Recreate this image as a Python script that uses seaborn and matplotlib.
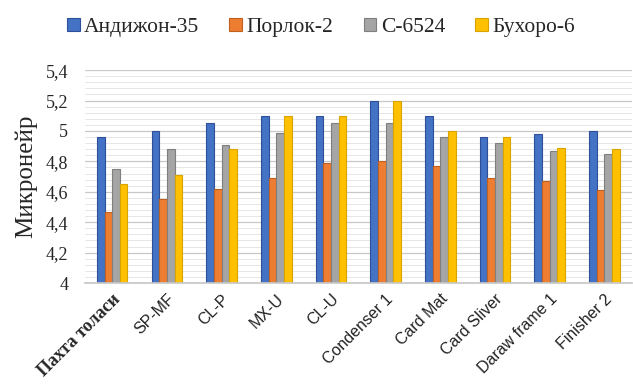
import matplotlib
matplotlib.use("Agg")
import matplotlib.pyplot as plt
import seaborn as sns
import pandas as pd
from matplotlib.ticker import MultipleLocator, FuncFormatter
from matplotlib.patches import Patch

stages = ["Пахта толаси", "SP-MF", "CL-P", "MX-U", "CL-U", "Condenser 1",
          "Card Mat", "Card Sliver", "Daraw frame 1", "Finisher 2"]
varieties = ["Андижон-35", "Порлок-2", "С-6524", "Бухоро-6"]
andijon = [4.96, 5.00, 5.05, 5.10, 5.10, 5.20, 5.10, 4.96, 4.98, 5.00]
porlok = [4.47, 4.55, 4.62, 4.69, 4.79, 4.80, 4.77, 4.69, 4.67, 4.61]
c6524 = [4.75, 4.88, 4.91, 4.99, 5.05, 5.05, 4.96, 4.92, 4.87, 4.85]
bukhoro = [4.65, 4.71, 4.88, 5.10, 5.10, 5.20, 5.00, 4.96, 4.89, 4.88]

colors = ["#4472C4", "#ED7D31", "#A5A5A5", "#FFC000"]
edges = ["#2F4F9A", "#C0601F", "#7F7F7F", "#D9A300"]

rows = []
for name, vals in zip(varieties, [andijon, porlok, c6524, bukhoro]):
    for s, v in zip(stages, vals):
        rows.append({"stage": s, "variety": name, "value": v})
df = pd.DataFrame(rows)

sns.set_theme(style="white")
plt.rcParams["font.family"] = ["Liberation Serif", "DejaVu Serif"]

fig = plt.figure(figsize=(6.33, 3.92), dpi=100)
ax = fig.add_axes([0.134, 0.278, 0.864, 0.543])

sns.barplot(data=df, x="stage", y="value", hue="variety", order=stages,
            hue_order=varieties, palette=colors, width=0.56, ax=ax,
            legend=False, errorbar=None, saturation=1)
for cont, ec in zip(ax.containers, edges):
    for bar in cont:
        bar.set_edgecolor(ec)
        bar.set_linewidth(0.8)

ax.set_ylim(4, 5.4)
ax.set_xlim(-0.5, len(stages) - 0.5)
ax.yaxis.set_major_locator(MultipleLocator(0.2))
ax.yaxis.set_minor_locator(MultipleLocator(0.04))
ax.yaxis.set_major_formatter(FuncFormatter(lambda v, p: f"{v:.1f}".rstrip("0").rstrip(".").replace(".", ",")))
ax.grid(axis="y", which="major", color="#C8C8C8", linewidth=0.9)
ax.grid(axis="y", which="minor", color="#E6E6E6", linewidth=0.7)
ax.set_axisbelow(True)
for sp in ["top", "right", "left"]:
    ax.spines[sp].set_visible(False)
ax.spines["bottom"].set_color("#C8C8C8")
ax.tick_params(axis="both", which="both", length=0)
ax.tick_params(axis="y", labelsize=13, pad=12)
for t in ax.get_yticklabels():
    t.set_fontfamily(["Liberation Serif"])

ax.set_xlabel("")
ax.set_ylabel("Микронейр", fontsize=18, labelpad=6)
ax.set_xticks(range(len(stages)))
ax.set_xticklabels(stages, rotation=45, ha="right", rotation_mode="anchor")
for i, t in enumerate(ax.get_xticklabels()):
    if i == 0:
        t.set_fontfamily(["Liberation Serif"])
        t.set_fontweight("bold")
        t.set_fontsize(13)
    else:
        t.set_fontfamily(["Liberation Sans"])
        t.set_fontsize(11.5)
        t.set_color("#222222")
ax.tick_params(axis="x", pad=6)

handles = [Patch(facecolor=c, edgecolor=e, linewidth=0.8) for c, e in zip(colors, edges)]
fig.legend(handles, varieties, loc="center", bbox_to_anchor=(0.507, 0.93), ncol=4,
           frameon=False, fontsize=15.5, handlelength=0.6, handleheight=0.6,
           handletextpad=0.2, columnspacing=1.4)

fig.savefig("out.png", dpi=100)
